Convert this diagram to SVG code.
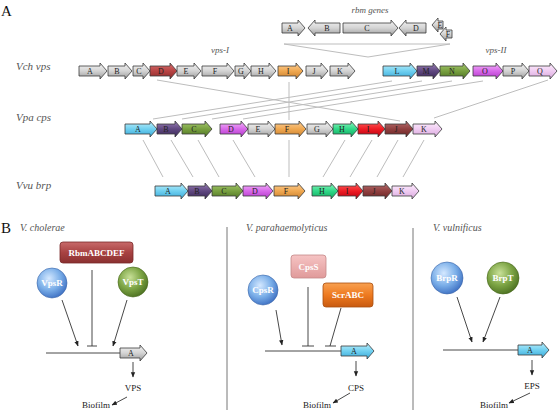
<svg xmlns="http://www.w3.org/2000/svg" width="560" height="410" viewBox="0 0 560 410">
<defs>
<linearGradient id="gGray" x1="0" y1="0" x2="0" y2="1"><stop offset="0" stop-color="#f4f4f4"/><stop offset="0.5" stop-color="#d4d4d4"/><stop offset="1" stop-color="#9a9a9a"/></linearGradient>
<linearGradient id="gDred" x1="0" y1="0" x2="0" y2="1"><stop offset="0" stop-color="#d67070"/><stop offset="0.5" stop-color="#b84444"/><stop offset="1" stop-color="#8a2a2a"/></linearGradient>
<linearGradient id="gOrange" x1="0" y1="0" x2="0" y2="1"><stop offset="0" stop-color="#fbd09a"/><stop offset="0.5" stop-color="#f0a850"/><stop offset="1" stop-color="#c88030"/></linearGradient>
<linearGradient id="gCyan" x1="0" y1="0" x2="0" y2="1"><stop offset="0" stop-color="#c0f0fc"/><stop offset="0.5" stop-color="#70d0f0"/><stop offset="1" stop-color="#38a8d8"/></linearGradient>
<linearGradient id="gPurple" x1="0" y1="0" x2="0" y2="1"><stop offset="0" stop-color="#9a80b8"/><stop offset="0.5" stop-color="#604880"/><stop offset="1" stop-color="#3a2858"/></linearGradient>
<linearGradient id="gGreen" x1="0" y1="0" x2="0" y2="1"><stop offset="0" stop-color="#a8cc70"/><stop offset="0.5" stop-color="#78a040"/><stop offset="1" stop-color="#4e7424"/></linearGradient>
<linearGradient id="gMag" x1="0" y1="0" x2="0" y2="1"><stop offset="0" stop-color="#f4b8fa"/><stop offset="0.5" stop-color="#d868ea"/><stop offset="1" stop-color="#b038c8"/></linearGradient>
<linearGradient id="gPink" x1="0" y1="0" x2="0" y2="1"><stop offset="0" stop-color="#fdf0fd"/><stop offset="0.5" stop-color="#f0ccf2"/><stop offset="1" stop-color="#d8a8dc"/></linearGradient>
<linearGradient id="gMint" x1="0" y1="0" x2="0" y2="1"><stop offset="0" stop-color="#90f8c0"/><stop offset="0.5" stop-color="#30d888"/><stop offset="1" stop-color="#10a860"/></linearGradient>
<linearGradient id="gRed" x1="0" y1="0" x2="0" y2="1"><stop offset="0" stop-color="#ff6060"/><stop offset="0.5" stop-color="#ee1c24"/><stop offset="1" stop-color="#b80010"/></linearGradient>
<linearGradient id="gBrown" x1="0" y1="0" x2="0" y2="1"><stop offset="0" stop-color="#b87070"/><stop offset="0.5" stop-color="#904040"/><stop offset="1" stop-color="#682424"/></linearGradient>
<linearGradient id="gRbm" x1="0" y1="0" x2="0" y2="1"><stop offset="0" stop-color="#c86a6a"/><stop offset="0.5" stop-color="#a84242"/><stop offset="1" stop-color="#8a3030"/></linearGradient>
<linearGradient id="gCpsS" x1="0" y1="0" x2="0" y2="1"><stop offset="0" stop-color="#f6c4c4"/><stop offset="1" stop-color="#e09a9a"/></linearGradient>
<linearGradient id="gScr" x1="0" y1="0" x2="0" y2="1"><stop offset="0" stop-color="#f8a050"/><stop offset="0.5" stop-color="#ee7a20"/><stop offset="1" stop-color="#c85a10"/></linearGradient>
<radialGradient id="rBlue" cx="0.4" cy="0.35" r="0.7"><stop offset="0" stop-color="#d4e8ff"/><stop offset="0.55" stop-color="#7aaee8"/><stop offset="1" stop-color="#3a6cc0"/></radialGradient>
<radialGradient id="rGreen" cx="0.4" cy="0.35" r="0.7"><stop offset="0" stop-color="#c8e098"/><stop offset="0.55" stop-color="#7ca444"/><stop offset="1" stop-color="#4a6e20"/></radialGradient>
<marker id="ah" viewBox="0 0 10 10" refX="9" refY="5" markerWidth="6" markerHeight="6" orient="auto"><path d="M0,1 L10,5 L0,9 Z" fill="#222"/></marker>
</defs>
<style>
.g{stroke:#3a3a3a;stroke-width:0.8}
.gray{fill:url(#gGray)}.dred{fill:url(#gDred)}.org{fill:url(#gOrange)}.cyan{fill:url(#gCyan)}.pur{fill:url(#gPurple)}.grn{fill:url(#gGreen)}.mag{fill:url(#gMag)}.pink{fill:url(#gPink)}.mint{fill:url(#gMint)}.red{fill:url(#gRed)}.brn{fill:url(#gBrown)}
.gl{font-family:"Liberation Serif",serif;font-size:8px;fill:#222;text-anchor:middle;dominant-baseline:central}
.lab{font-family:"Liberation Serif",serif;font-style:italic;fill:#555}
.big{font-family:"Liberation Serif",serif;font-size:15px;fill:#111}
.hom{stroke:#bdbdbd;stroke-width:1;fill:none}
.reg{stroke:#333;stroke-width:0.9;fill:none}
.act{stroke:#333;stroke-width:0.9;fill:none;marker-end:url(#ah)}
.wt{font-family:"Liberation Serif",serif;font-weight:bold;font-size:9px;fill:#fff;text-anchor:middle;dominant-baseline:central}
.bt{font-family:"Liberation Serif",serif;font-size:9px;fill:#222;text-anchor:middle}
</style>

<text class="big" x="1" y="16">A</text>
<text class="lab" x="370" y="13" font-size="9" text-anchor="middle">rbm genes</text>
<text class="lab" x="220" y="53" font-size="9" text-anchor="middle">vps-I</text>
<text class="lab" x="496" y="53" font-size="9" text-anchor="middle">vps-II</text>
<text class="lab" x="16" y="70" font-size="11">Vch vps</text>
<text class="lab" x="16" y="121" font-size="11">Vpa cps</text>
<text class="lab" x="16" y="189" font-size="11">Vvu brp</text>

<g id="connectors">
<polygon class="hom" points="284,44 450,44 368,57" stroke="#888"/>
<line class="hom" x1="157" y1="80" x2="400" y2="121"/>
<line class="hom" x1="289" y1="82" x2="289" y2="120"/>
<line class="hom" x1="392" y1="81" x2="153" y2="119"/>
<line class="hom" x1="422" y1="81" x2="182" y2="119"/>
<line class="hom" x1="452" y1="81" x2="212" y2="119"/>
<line class="hom" x1="483" y1="81" x2="243" y2="119"/>
<line class="hom" x1="548" y1="80" x2="434" y2="118"/>
<line class="hom" x1="143" y1="140" x2="163" y2="177"/>
<line class="hom" x1="171" y1="140" x2="193" y2="177"/>
<line class="hom" x1="198" y1="140" x2="219" y2="177"/>
<line class="hom" x1="233" y1="140" x2="255" y2="177"/>
<line class="hom" x1="289" y1="140" x2="289" y2="177"/>
<line class="hom" x1="345" y1="140" x2="323" y2="177"/>
<line class="hom" x1="372" y1="140" x2="350" y2="177"/>
<line class="hom" x1="398" y1="140" x2="377" y2="177"/>
<line class="hom" x1="424" y1="140" x2="403" y2="177"/>
<line x1="227" y1="227" x2="227" y2="410" stroke="#777" stroke-width="1"/>
<line x1="413" y1="228" x2="413" y2="410" stroke="#777" stroke-width="1"/>
<line class="act" x1="62" y1="300" x2="78" y2="346"/>
<line class="act" x1="127" y1="300" x2="113" y2="346"/>
<path class="reg" d="M92,270 V346 M87,346 H97"/>
<line class="reg" x1="46" y1="353" x2="121" y2="353"/>
<line class="act" x1="133" y1="362" x2="133" y2="377"/>
<line class="act" x1="127" y1="397" x2="112" y2="405"/>
<line class="act" x1="276" y1="310" x2="282" y2="345"/>
<path class="reg" d="M308,287 V346 M302,346 H314"/>
<path class="reg" d="M341,308 L330,346 M325,346 H336"/>
<line class="reg" x1="265" y1="351" x2="341" y2="351"/>
<line class="act" x1="356" y1="361" x2="356" y2="376"/>
<line class="act" x1="350" y1="393" x2="333" y2="403"/>
<line class="act" x1="457" y1="297" x2="472" y2="342"/>
<line class="act" x1="500" y1="297" x2="483" y2="342"/>
<line class="reg" x1="443" y1="350" x2="518" y2="350"/>
<line class="act" x1="532" y1="360" x2="532" y2="375"/>
<line class="act" x1="530" y1="393" x2="509" y2="403"/>
</g>

<g id="rbm">
<path class="g gray" d="M282,23 H298 V20 L305,28 L298,36 V33 H282 Z"/><text class="gl" x="290" y="28">A</text>
<path class="g gray" d="M340,23 H315 V20 L308,28 L315,36 V33 H340 Z"/><text class="gl" x="327" y="28">B</text>
<path class="g gray" d="M343,23 H391 V20 L398,28 L391,36 V33 H343 Z"/><text class="gl" x="367" y="28">C</text>
<path class="g gray" d="M426,23 H406 V20 L399,28 L406,36 V33 H426 Z"/><text class="gl" x="416" y="28">D</text>
<path class="g gray" d="M443,21 H438 V18 L432,25 L438,32 V29 H443 Z"/><text class="gl" x="440" y="25" font-size="7">E</text>
<path class="g gray" d="M452,30 H446 V27 L440,34 L446,41 V38 H452 Z"/><text class="gl" x="448" y="34" font-size="7">F</text>
</g>

<g id="vch">
<path class="g gray" d="M79,66 H100 V63 L107,71 L100,79 V76 H79 Z"/><text class="gl" x="90" y="71">A</text>
<path class="g gray" d="M108,66 H125 V63 L132,71 L125,79 V76 H108 Z"/><text class="gl" x="117" y="71">B</text>
<path class="g gray" d="M133,66 H143 V63 L150,71 L143,79 V76 H133 Z"/><text class="gl" x="139" y="71">C</text>
<path class="g dred" d="M150,66 H170 V63 L177,71 L170,79 V76 H150 Z"/><text class="gl" x="161" y="71">D</text>
<path class="g gray" d="M177,66 H194 V63 L201,71 L194,79 V76 H177 Z"/><text class="gl" x="186" y="71">E</text>
<path class="g gray" d="M202,66 H227 V63 L234,71 L227,79 V76 H202 Z"/><text class="gl" x="215" y="71">F</text>
<path class="g gray" d="M235,66 H244 V63 L251,71 L244,79 V76 H235 Z"/><text class="gl" x="241" y="71">G</text>
<path class="g gray" d="M251,66 H269 V63 L276,71 L269,79 V76 H251 Z"/><text class="gl" x="261" y="71">H</text>
<path class="g org" d="M278,66 H296 V63 L303,71 L296,79 V76 H278 Z"/><text class="gl" x="288" y="71">I</text>
<path class="g gray" d="M306,66 H321 V63 L328,71 L321,79 V76 H306 Z"/><text class="gl" x="314" y="71">J</text>
<path class="g gray" d="M330,66 H348 V63 L355,71 L348,79 V76 H330 Z"/><text class="gl" x="340" y="71">K</text>
<path class="g cyan" d="M383,66 H410 V63 L417,71 L410,79 V76 H383 Z"/><text class="gl" x="397" y="71">L</text>
<path class="g pur" d="M417,66 H433 V63 L440,71 L433,79 V76 H417 Z"/><text class="gl" x="426" y="71">M</text>
<path class="g grn" d="M440,66 H463 V63 L470,71 L463,79 V76 H440 Z"/><text class="gl" x="452" y="71">N</text>
<path class="g mag" d="M473,66 H496 V63 L503,71 L496,79 V76 H473 Z"/><text class="gl" x="485" y="71">O</text>
<path class="g gray" d="M503,66 H522 V63 L529,71 L522,79 V76 H503 Z"/><text class="gl" x="513" y="71">P</text>
<path class="g pink" d="M529,66 H550 V63 L557,71 L550,79 V76 H529 Z"/><text class="gl" x="540" y="71">Q</text>
</g>

<g id="vpa">
<path class="g cyan" d="M125,124 H150 V121 L157,129 L150,137 V134 H125 Z"/><text class="gl" x="138" y="129">A</text>
<path class="g pur" d="M157,124 H175 V121 L182,129 L175,137 V134 H157 Z"/><text class="gl" x="166" y="129">B</text>
<path class="g grn" d="M182,124 H205 V121 L212,129 L205,137 V134 H182 Z"/><text class="gl" x="194" y="129">C</text>
<path class="g mag" d="M220,124 H241 V121 L248,129 L241,137 V134 H220 Z"/><text class="gl" x="231" y="129">D</text>
<path class="g gray" d="M248,124 H268 V121 L275,129 L268,137 V134 H248 Z"/><text class="gl" x="258" y="129">E</text>
<path class="g org" d="M275,124 H299 V121 L306,129 L299,137 V134 H275 Z"/><text class="gl" x="287" y="129">F</text>
<path class="g gray" d="M307,124 H326 V121 L333,129 L326,137 V134 H307 Z"/><text class="gl" x="317" y="129">G</text>
<path class="g mint" d="M333,124 H351 V121 L358,129 L351,137 V134 H333 Z"/><text class="gl" x="342" y="129">H</text>
<path class="g red" d="M358,124 H378 V121 L385,129 L378,137 V134 H358 Z"/><text class="gl" x="368" y="129">I</text>
<path class="g brn" d="M385,124 H406 V121 L413,129 L406,137 V134 H385 Z"/><text class="gl" x="396" y="129">J</text>
<path class="g pink" d="M413,124 H435 V121 L442,129 L435,137 V134 H413 Z"/><text class="gl" x="424" y="129">K</text>
</g>

<g id="vvu">
<path class="g cyan" d="M155,186 H181 V183 L188,191 L181,199 V196 H155 Z"/><text class="gl" x="168" y="191">A</text>
<path class="g pur" d="M188,186 H205 V183 L212,191 L205,199 V196 H188 Z"/><text class="gl" x="197" y="191">B</text>
<path class="g grn" d="M212,186 H236 V183 L243,191 L236,199 V196 H212 Z"/><text class="gl" x="224" y="191">C</text>
<path class="g mag" d="M243,186 H266 V183 L273,191 L266,199 V196 H243 Z"/><text class="gl" x="255" y="191">D</text>
<path class="g org" d="M274,186 H298 V183 L305,191 L298,199 V196 H274 Z"/><text class="gl" x="286" y="191">F</text>
<path class="g mint" d="M312,186 H331 V183 L338,191 L331,199 V196 H312 Z"/><text class="gl" x="322" y="191">H</text>
<path class="g red" d="M338,186 H356 V183 L363,191 L356,199 V196 H338 Z"/><text class="gl" x="347" y="191">I</text>
<path class="g brn" d="M363,186 H385 V183 L392,191 L385,199 V196 H363 Z"/><text class="gl" x="374" y="191">J</text>
<path class="g pink" d="M392,186 H412 V183 L419,191 L412,199 V196 H392 Z"/><text class="gl" x="402" y="191">K</text>
</g>

<text class="big" x="1" y="233">B</text>
<text class="lab" x="20" y="231" font-size="10">V. cholerae</text>
<text class="lab" x="246" y="231" font-size="10">V. parahaemolyticus</text>
<text class="lab" x="433" y="231" font-size="10">V. vulnificus</text>

<g id="cholerae">
<rect x="60" y="242" width="73" height="21" rx="3" fill="url(#gRbm)" stroke="#7a2a2a" stroke-width="0.8"/>
<text class="wt" x="96.5" y="252.5">RbmABCDEF</text>
<circle cx="52" cy="283" r="15" fill="url(#rBlue)" stroke="#3a64a8" stroke-width="0.6"/>
<text class="wt" x="52" y="283">VpsR</text>
<circle cx="133" cy="282" r="15" fill="url(#rGreen)" stroke="#446418" stroke-width="0.6"/>
<text class="wt" x="133" y="282">VpsT</text>
<path class="g gray" d="M120,348 H140 V345 L147,353 L140,361 V358 H120 Z"/><text class="gl" x="131" y="353">A</text>
<text class="bt" x="133" y="391">VPS</text>
<text class="bt" x="96" y="408">Biofilm</text>
</g>

<g id="parahaemolyticus">
<rect x="291" y="255" width="35" height="23" rx="3" fill="url(#gCpsS)" stroke="#c48888" stroke-width="0.8"/>
<text class="wt" x="308.5" y="266.5">CpsS</text>
<rect x="323" y="283" width="50" height="24" rx="3" fill="url(#gScr)" stroke="#a84e10" stroke-width="0.8"/>
<text class="wt" x="348" y="295">ScrABC</text>
<circle cx="263" cy="290" r="15" fill="url(#rBlue)" stroke="#3a64a8" stroke-width="0.6"/>
<text class="wt" x="263" y="290">CpsR</text>
<path class="g cyan" d="M341,346 H367 V343 L374,351 L367,359 V356 H341 Z"/><text class="gl" x="354" y="351">A</text>
<text class="bt" x="356" y="391">CPS</text>
<text class="bt" x="317" y="408">Biofilm</text>
</g>

<g id="vulnificus">
<circle cx="447" cy="278" r="16" fill="url(#rBlue)" stroke="#3a64a8" stroke-width="0.6"/>
<text class="wt" x="447" y="278">BrpR</text>
<circle cx="503" cy="278" r="16" fill="url(#rGreen)" stroke="#446418" stroke-width="0.6"/>
<text class="wt" x="503" y="278">BrpT</text>
<path class="g cyan" d="M518,345 H542 V342 L549,350 L542,358 V355 H518 Z"/><text class="gl" x="530" y="350">A</text>
<text class="bt" x="532" y="389">EPS</text>
<text class="bt" x="494" y="408">Biofilm</text>
</g>
</svg>
